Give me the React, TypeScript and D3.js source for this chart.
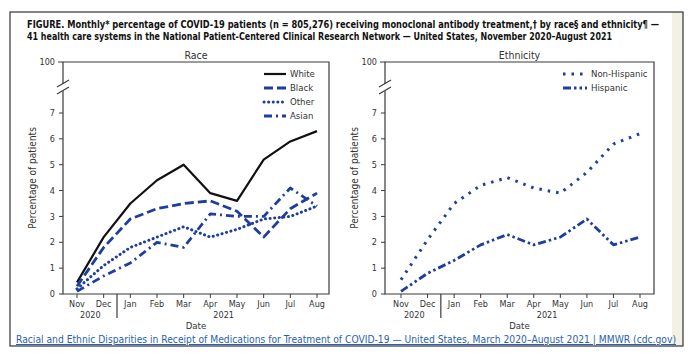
import React from "react";
import * as d3 from "d3";

const months = ["Nov", "Dec", "Jan", "Feb", "Mar", "Apr", "May", "Jun", "Jul", "Aug"];
const yTicks = [0, 1, 2, 3, 4, 5, 6, 7];

// race panel
const white = [0.45, 2.2, 3.5, 4.4, 5.0, 3.9, 3.6, 5.2, 5.9, 6.3];
const black = [0.3, 1.8, 2.9, 3.3, 3.5, 3.6, 3.2, 2.2, 3.3, 3.9];
const other = [0.2, 1.1, 1.8, 2.2, 2.6, 2.2, 2.5, 2.9, 3.0, 3.4];
const asian = [0.1, 0.7, 1.2, 2.0, 1.8, 3.1, 3.0, 3.0, 4.1, 3.4];

// ethnicity panel
const nonHispanic = [0.55, 2.1, 3.5, 4.2, 4.5, 4.1, 3.9, 4.7, 5.8, 6.2];
const hispanic = [0.1, 0.8, 1.3, 1.9, 2.3, 1.9, 2.2, 2.9, 1.9, 2.2];

const BLUE = "#1d3d9f";
const AXIS = "#3a3a3a";
const FONT = "'Liberation Sans Narrow', 'DejaVu Sans Condensed', 'Liberation Sans', sans-serif";

type Series = { name: string; values: number[]; color: string; dash: string; width: number; cap?: string };

const raceSeries: Series[] = [
  { name: "White", values: white, color: "#111", dash: "", width: 2.2 },
  { name: "Black", values: black, color: BLUE, dash: "9,4", width: 2.8 },
  { name: "Other", values: other, color: BLUE, dash: "0.1,4.5", width: 3, cap: "round" },
  { name: "Asian", values: asian, color: BLUE, dash: "8,4,2,4", width: 2.8 },
];

const ethSeries: Series[] = [
  { name: "Non-Hispanic", values: nonHispanic, color: BLUE, dash: "2.5,6", width: 3 },
  { name: "Hispanic", values: hispanic, color: BLUE, dash: "8,3,2.5,3,2.5,3", width: 2.8 },
];

const top = 62;
const bottom = 294;

const Panel = ({ left, right, firstX, lastX, title, series, legendX, legendLine }: {
  left: number; right: number; firstX: number; lastX: number; title: string;
  series: Series[]; legendX: number; legendLine: number;
}) => {
  const x = d3.scalePoint<string>().domain(months).range([firstX, lastX]);
  const y = d3.scaleLinear().domain([0, 7]).range([bottom, 113]);
  const line = d3.line<number>().x((_, i) => x(months[i]) as number).y(d => y(d));
  const sepX = ((x("Dec") as number) + (x("Jan") as number)) / 2;
  const mid = (left + right) / 2;
  return (
    <g fontFamily={FONT} fill="#333">
      <text x={mid} y={59} textAnchor="middle" fontSize={10.5}>{title}</text>
      {/* frame, with break on the left axis */}
      <path d={`M${left},84 V${top} H${right} V${bottom} H${left} V91`} fill="none" stroke={AXIS} strokeWidth={1.2} />
      <line x1={left - 6} y1={87} x2={left + 6} y2={80} stroke={AXIS} strokeWidth={1.1} />
      <line x1={left - 6} y1={94} x2={left + 6} y2={87} stroke={AXIS} strokeWidth={1.1} />
      <line x1={left - 5} x2={left} y1={top} y2={top} stroke={AXIS} />
      <text x={left - 8} y={top} dy="0.35em" textAnchor="end" fontSize={9}>100</text>
      {yTicks.map(t => (
        <g key={t}>
          <line x1={left - 4} x2={left} y1={y(t)} y2={y(t)} stroke={AXIS} />
          <text x={left - 8} y={y(t)} dy="0.35em" textAnchor="end" fontSize={9}>{t}</text>
        </g>
      ))}
      {months.map(m => (
        <g key={m}>
          <line x1={x(m)} x2={x(m)} y1={bottom} y2={bottom + 4} stroke={AXIS} />
          <text x={x(m)} y={bottom + 13} textAnchor="middle" fontSize={9}>{m}</text>
        </g>
      ))}
      <line x1={sepX} x2={sepX} y1={bottom} y2={bottom + 24} stroke={AXIS} strokeWidth={1.2} />
      <text x={((x("Nov") as number) + (x("Dec") as number)) / 2} y={bottom + 24} textAnchor="middle" fontSize={9}>2020</text>
      <text x={((x("Jan") as number) + (x("Aug") as number)) / 2} y={bottom + 24} textAnchor="middle" fontSize={9}>2021</text>
      <text x={mid} y={bottom + 34.5} textAnchor="middle" fontSize={9.5}>Date</text>
      <text transform={`translate(${left - 27},${(bottom + 62) / 2 + 0}) rotate(-90)`} textAnchor="middle" fontSize={10}>Percentage of patients</text>
      {series.map(s => (
        <path key={s.name} d={line(s.values) ?? ""} fill="none" stroke={s.color} strokeWidth={s.width}
          strokeDasharray={s.dash} strokeLinecap={(s.cap as any) ?? "butt"} strokeLinejoin="round" />
      ))}
      {series.map((s, i) => (
        <g key={s.name} transform={`translate(0,${74 + i * 14})`}>
          <line x1={legendX - legendLine - 4} x2={legendX - 4} y1={0} y2={0} stroke={s.color} strokeWidth={s.width}
            strokeDasharray={s.dash} strokeLinecap={(s.cap as any) ?? "butt"} />
          <text x={legendX} y={0} dy="0.35em" fontSize={9.5}>{s.name}</text>
        </g>
      ))}
    </g>
  );
};

export default function App() {
  return (
    <>
      <style>{"body{margin:0}"}</style>
      <svg width={698} height={362} style={{ display: "block" }}>
        <rect width={698} height={362} fill="#fff" />
        <rect x={672} y={12} width={11} height={334} fill="#f3f1e4" />
        <rect x={10} y={12} width={673} height={334} fill="none" stroke="#333" strokeWidth={1.2} />
        <g fontFamily={FONT} fontWeight="bold" fontSize={9.6} fill="#111">
          <text x={27} y={28} textLength={632} lengthAdjust="spacingAndGlyphs">
            FIGURE. Monthly* percentage of COVID-19 patients (n = 805,276) receiving monoclonal antibody treatment,† by race§ and ethnicity¶ —
          </text>
          <text x={27} y={40} textLength={585} lengthAdjust="spacingAndGlyphs">
            41 health care systems in the National Patient-Centered Clinical Research Network — United States, November 2020–August 2021
          </text>
        </g>
        <Panel left={63} right={329} firstX={77} lastX={317} title="Race" series={raceSeries} legendX={290} legendLine={22} />
        <Panel left={385} right={654} firstX={401} lastX={640} title="Ethnicity" series={ethSeries} legendX={591} legendLine={24} />
        <text x={16} y={343} fontFamily={FONT} fontSize={10.5} fill="#2b5fb0" textDecoration="underline"
          textLength={660} lengthAdjust="spacingAndGlyphs">
          Racial and Ethnic Disparities in Receipt of Medications for Treatment of COVID-19 — United States, March 2020–August 2021 | MMWR (cdc.gov)
        </text>
      </svg>
    </>
  );
}
